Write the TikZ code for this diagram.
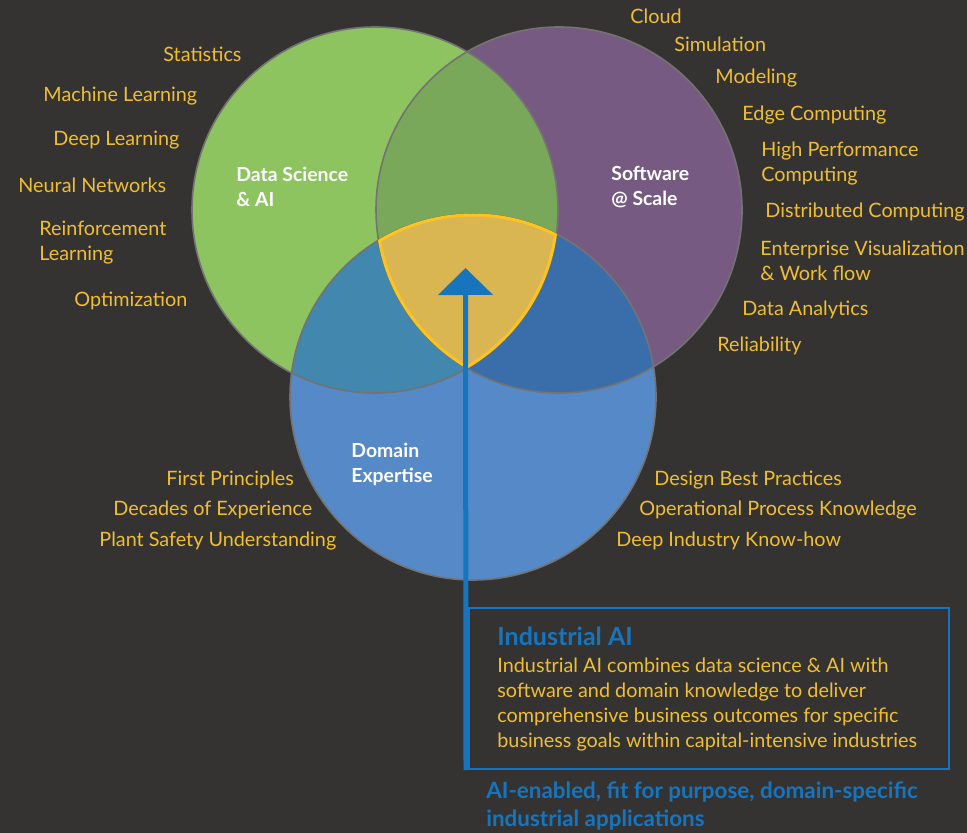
\documentclass[tikz,border=0pt]{standalone}
\usepackage{fontspec}
\setmainfont{Lato}
\usetikzlibrary{arrows.meta,positioning}

\definecolor{bgcol}{HTML}{343331}
\definecolor{dscol}{HTML}{8DC460}
\definecolor{swcol}{HTML}{775A82}
\definecolor{decol}{HTML}{5689C8}
\definecolor{dsswcol}{HTML}{7AA85A}
\definecolor{dsdecol}{HTML}{4187AE}
\definecolor{swdecol}{HTML}{3A6EAA}
\definecolor{corecol}{HTML}{DAB652}
\definecolor{rimcol}{HTML}{FFC320}
\definecolor{itemcol}{HTML}{F0BE32}
\definecolor{iaicol}{HTML}{1775BE}

\begin{document}
\begin{tikzpicture}
[x=0.5pt, y=-0.5pt,
item/.style={text=itemcol, anchor=west, align=left, inner sep=0pt, font=\fontsize{9.9}{12.5}\selectfont},
head/.style={text=white, anchor=west, align=left, inner sep=0pt, font=\bfseries\fontsize{9.7}{12.5}\selectfont},
rim/.style={draw=black!55, line width=0.8pt},
iaibox/.style={draw=iaicol, line width=1pt, inner sep=0pt, anchor=north west, minimum width=240pt, minimum height=80.5pt}]

\fill[bgcol] (0,0) rectangle (967,833);

% the three circles
\coordinate (ds) at (375,210);
\coordinate (sw) at (559,210);
\coordinate (de) at (473,397);
\fill[dscol] (ds) circle (183);
\fill[swcol] (sw) circle (183);
\fill[decol] (de) circle (183);

% overlaps
\begin{scope}
  \clip (ds) circle (183);
  \fill[dsswcol] (sw) circle (183);
  \fill[dsdecol] (de) circle (183);
\end{scope}
\begin{scope}
  \clip (sw) circle (183);
  \fill[swdecol] (de) circle (183);
\end{scope}
\begin{scope}
  \clip (ds) circle (183);
  \clip (sw) circle (183);
  \fill[corecol] (de) circle (183);
\end{scope}

\draw[rim] (ds) circle (183);
\draw[rim] (sw) circle (183);
\draw[rim] (de) circle (183);

% yellow rim of the centre
\begin{scope}
  \clip (ds) circle (183);
  \clip (sw) circle (183);
  \draw[rimcol, line width=1.5pt] (de) circle (182);
\end{scope}
\begin{scope}
  \clip (ds) circle (183);
  \clip (de) circle (183);
  \draw[rimcol, line width=1.5pt] (sw) circle (182);
\end{scope}
\begin{scope}
  \clip (sw) circle (183);
  \clip (de) circle (183);
  \draw[rimcol, line width=1.5pt] (ds) circle (182);
\end{scope}

\node[head] (dshead) at (236,187) {Data Science\\\& AI};
\node[head] (swhead) at (611,187) {Software\\@ Scale};
\node[head] (dehead) at (351,464) {Domain\\Expertise};

% data science & AI
\node[item] (stat) at (163,54) {Statistics};
\node[item] (ml) at (43,96) {Machine Learning};
\node[item] (dl) at (53,140) {Deep Learning};
\node[item] (nn) at (18,185) {Neural Networks};
\node[item] (rl) at (39,243) {Reinforcement\\Learning};
\node[item] (opt) at (74,301) {Optimization};

% software @ scale
\node[item] (cloud) at (630,16) {Cloud};
\node[item] (sim) at (674,44) {Simulation};
\node[item] (model) at (715,78) {Modeling};
\node[item] (edge) at (742,115) {Edge Computing};
\node[item] (hpc) at (761,164) {High Performance\\Computing};
\node[item] (dist) at (765,212) {Distributed Computing};
\node[item] (ent) at (760,261) {Enterprise Visualization\\\& Work flow};
\node[item] (dana) at (742,310) {Data Analytics};
\node[item] (rel) at (717,346) {Reliability};

% domain expertise
\node[item] (fp) at (166,480) {First Principles};
\node[item] (exp) at (113,510) {Decades of Experience};
\node[item] (safe) at (99,541) {Plant Safety Understanding};
\node[item] (best) at (654,480) {Design Best Practices};
\node[item] (proc) at (639,510) {Operational Process Knowledge};
\node[item] (know) at (616,541) {Deep Industry Know-how};

% industrial AI box and arrow
\node[iaibox] (box) at (468,607) {};
\node[anchor=west, inner sep=0pt, text=iaicol, font=\bfseries\fontsize{12.5}{14}\selectfont] (iaititle) at (497,636) {Industrial AI};
\node[item] (iaitext) at (497,705) {Industrial AI combines data science \& AI with\\software and domain knowledge to deliver\\comprehensive business outcomes for specific\\business goals within capital-intensive industries};
\coordinate (tip) at (465.5,268);
\draw[iaicol, line width=2.5pt, -{Triangle[width=27pt, length=13.5pt]}] ([xshift=-1pt]box.south west) -- (tip);

\node[anchor=west, align=left, inner sep=0pt, text=iaicol, font=\bfseries\fontsize{11.2}{14}\selectfont] (apps) at (486,806) {AI-enabled, fit for purpose, domain-specific\\industrial applications};
\end{tikzpicture}
\end{document}
